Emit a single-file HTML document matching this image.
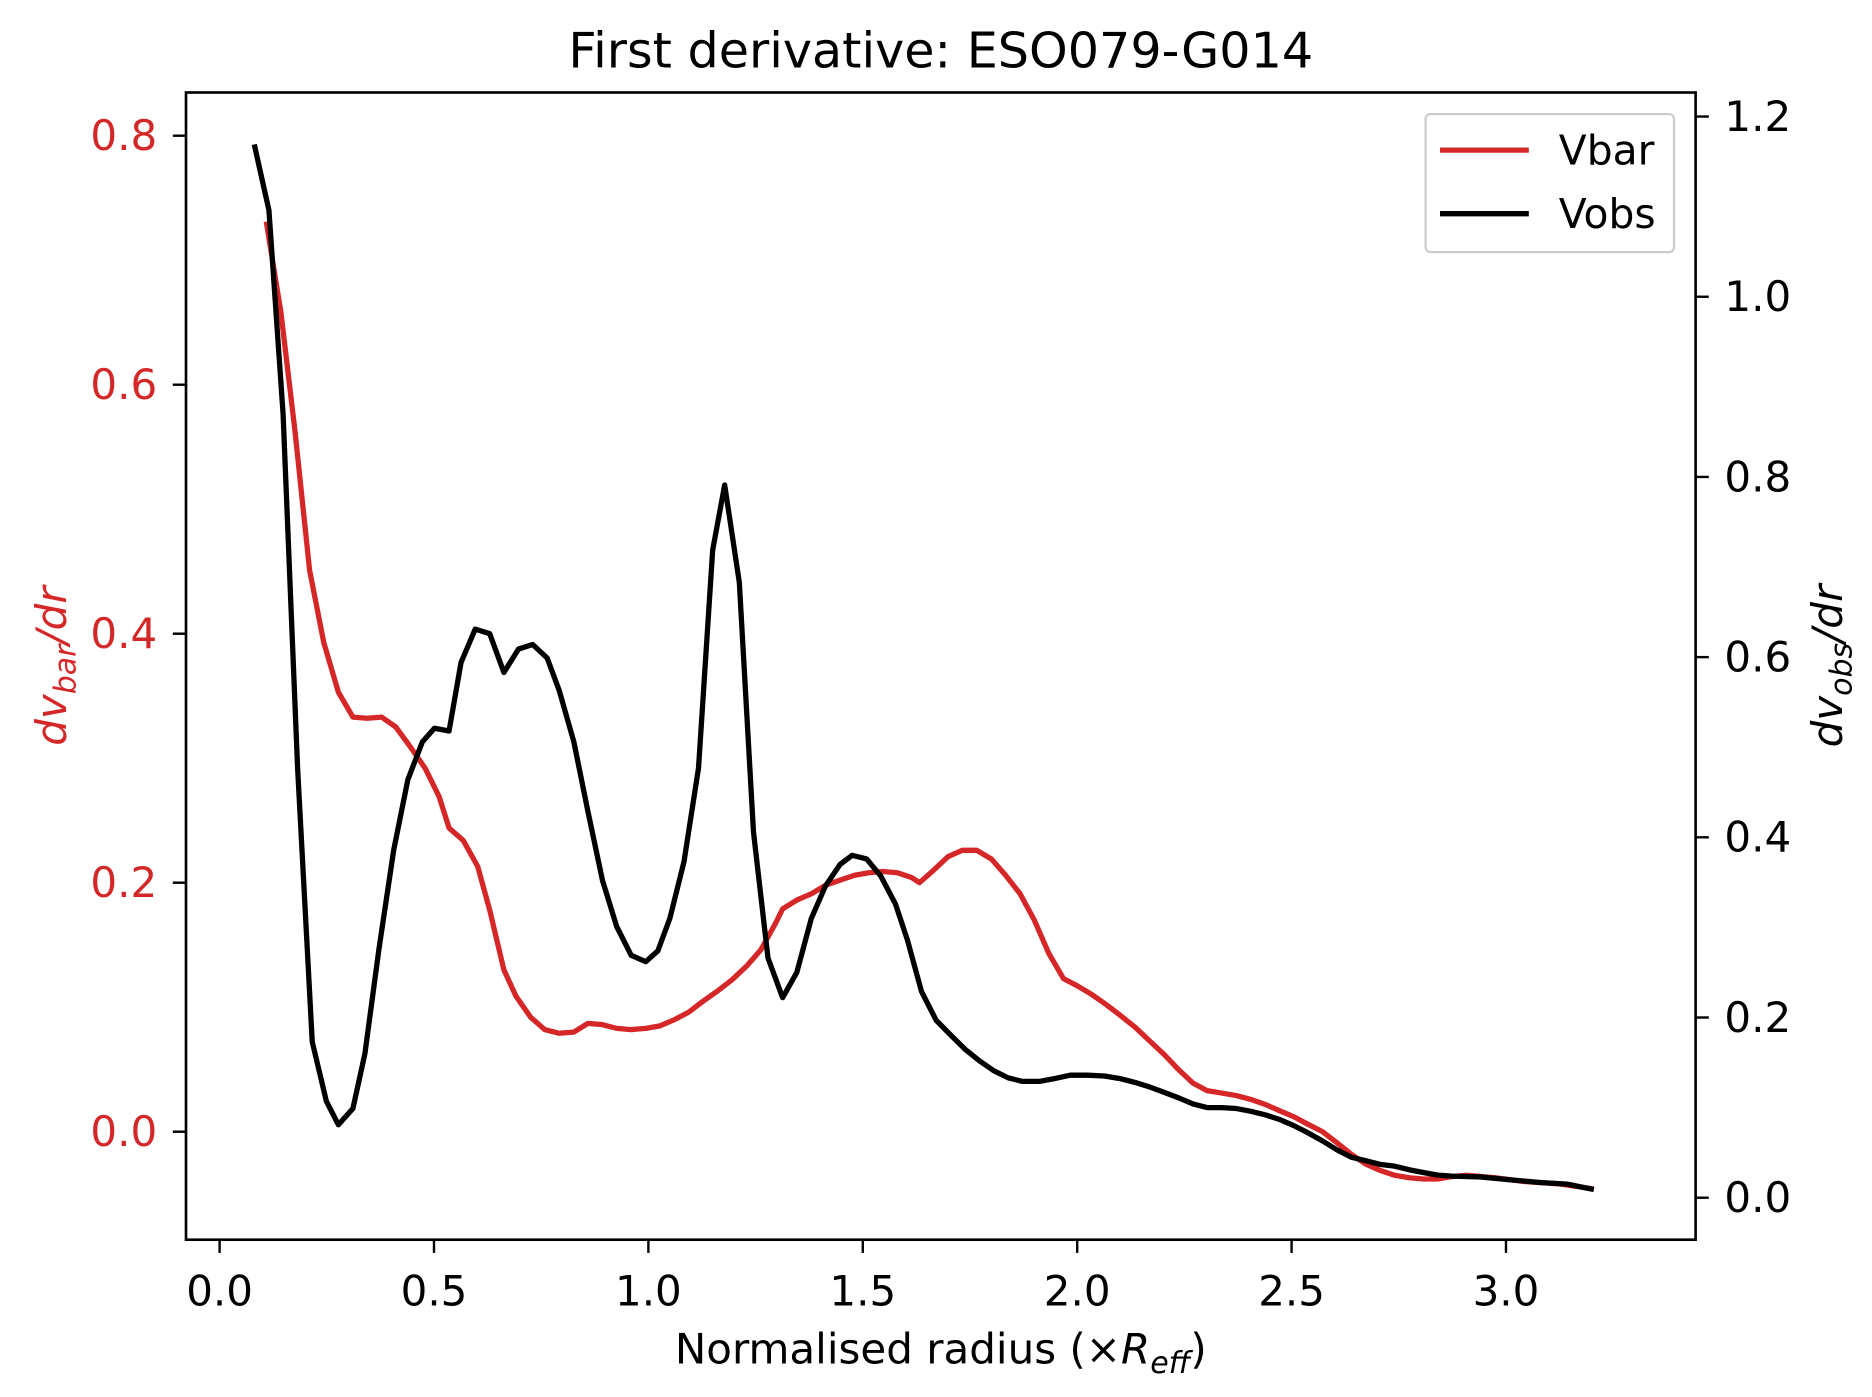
<!DOCTYPE html>
<html><head><meta charset="utf-8"><style>
html,body{margin:0;padding:0;background:#fff}
svg{display:block}
text{font-family:"DejaVu Sans","Liberation Sans",sans-serif}
</style></head><body>
<svg id="chart" width="1872" height="1397" viewBox="0 0 1560 1164" xmlns="http://www.w3.org/2000/svg">
<rect x="0" y="0" width="1560" height="1164" fill="#fff"/>
<text x="784" y="56" font-size="41" text-anchor="middle">First derivative: ESO079-G014</text>
<g id="plot"></g>
<rect x="155" y="77" width="1258" height="956" fill="none" stroke="#000" stroke-width="2.2"/>
<text x="784" y="1136" font-size="35" text-anchor="middle">Normalised radius (×<tspan font-style="italic">R</tspan><tspan font-style="italic" font-size="25" dy="8">eff</tspan><tspan dy="-8">)</tspan></text>
<text transform="translate(55,555) rotate(-90)" font-size="35" text-anchor="middle" fill="#d62728" font-style="italic">dv<tspan font-size="25" dy="8">bar</tspan><tspan dy="-8">/dr</tspan></text>
<text transform="translate(1535,555) rotate(-90)" font-size="35" text-anchor="middle" fill="#000" font-style="italic">dv<tspan font-size="25" dy="8">obs</tspan><tspan dy="-8">/dr</tspan></text>
<g>
<rect x="1188" y="95" width="207" height="115" rx="4" fill="#fff" fill-opacity="0.8" stroke="#ccc" stroke-width="1.8"/>
<line x1="1200" y1="125" x2="1274" y2="125" stroke="#d62728" stroke-width="4.4"/>
<text x="1299" y="137" font-size="34">Vbar</text>
<line x1="1200" y1="178" x2="1274" y2="178" stroke="#000" stroke-width="4.4"/>
<text x="1299" y="190" font-size="34">Vobs</text>
</g>
</svg>
<script>
const xTicks=[0.0,0.5,1.0,1.5,2.0,2.5,3.0];
const xTickLabels=["0.0","0.5","1.0","1.5","2.0","2.5","3.0"];
const leftTicks=[0.0,0.2,0.4,0.6,0.8];
const leftTickLabels=["0.0","0.2","0.4","0.6","0.8"];
const rightTicks=[0.0,0.2,0.4,0.6,0.8,1.0,1.2];
const rightTickLabels=["0.0","0.2","0.4","0.6","0.8","1.0","1.2"];
const vbarX=[0.109,0.143,0.176,0.210,0.243,0.277,0.311,0.344,0.378,0.411,0.445,0.479,0.512,0.535,0.568,0.602,0.630,0.663,0.691,0.725,0.758,0.792,0.826,0.859,0.893,0.926,0.960,0.994,1.027,1.061,1.094,1.128,1.161,1.195,1.229,1.262,1.296,1.313,1.346,1.380,1.413,1.447,1.481,1.514,1.548,1.581,1.615,1.632,1.665,1.699,1.732,1.766,1.800,1.833,1.867,1.900,1.934,1.968,2.001,2.035,2.068,2.102,2.135,2.169,2.203,2.236,2.270,2.303,2.337,2.371,2.404,2.438,2.471,2.505,2.538,2.572,2.606,2.639,2.673,2.706,2.740,2.774,2.807,2.841,2.874,2.908,2.975,3.042,3.126,3.205];
const vbarY=[0.731,0.658,0.562,0.451,0.393,0.353,0.333,0.332,0.333,0.325,0.309,0.292,0.269,0.244,0.234,0.213,0.178,0.130,0.109,0.092,0.082,0.079,0.080,0.087,0.086,0.083,0.082,0.083,0.085,0.090,0.096,0.105,0.113,0.122,0.133,0.146,0.167,0.179,0.186,0.191,0.198,0.202,0.206,0.208,0.209,0.208,0.204,0.200,0.210,0.221,0.226,0.226,0.219,0.206,0.191,0.170,0.143,0.123,0.117,0.110,0.102,0.093,0.084,0.073,0.062,0.050,0.039,0.033,0.031,0.029,0.026,0.022,0.017,0.012,0.006,0.000,-0.009,-0.018,-0.026,-0.031,-0.035,-0.037,-0.038,-0.038,-0.036,-0.035,-0.037,-0.040,-0.042,-0.046];
const vobsX=[0.081,0.115,0.148,0.182,0.216,0.249,0.277,0.311,0.339,0.372,0.406,0.439,0.473,0.501,0.535,0.563,0.596,0.630,0.663,0.697,0.730,0.764,0.792,0.826,0.859,0.893,0.926,0.960,0.994,1.022,1.050,1.083,1.117,1.150,1.178,1.212,1.245,1.279,1.313,1.346,1.380,1.413,1.447,1.475,1.509,1.542,1.576,1.604,1.637,1.671,1.704,1.738,1.772,1.805,1.839,1.872,1.912,1.945,1.984,2.024,2.063,2.102,2.135,2.169,2.203,2.236,2.270,2.303,2.337,2.371,2.404,2.438,2.471,2.505,2.538,2.572,2.606,2.639,2.673,2.706,2.740,2.774,2.807,2.841,2.874,2.941,3.008,3.076,3.143,3.205];
const vobsY=[1.169,1.096,0.870,0.477,0.173,0.107,0.081,0.099,0.160,0.277,0.386,0.464,0.506,0.521,0.518,0.594,0.631,0.626,0.583,0.609,0.614,0.599,0.563,0.506,0.429,0.352,0.301,0.269,0.262,0.274,0.310,0.373,0.477,0.719,0.791,0.683,0.406,0.266,0.222,0.250,0.310,0.346,0.370,0.380,0.376,0.357,0.326,0.286,0.229,0.197,0.181,0.165,0.152,0.141,0.133,0.129,0.129,0.132,0.136,0.136,0.135,0.132,0.128,0.123,0.117,0.111,0.104,0.100,0.100,0.099,0.096,0.092,0.087,0.080,0.072,0.063,0.053,0.045,0.041,0.037,0.035,0.031,0.028,0.025,0.024,0.023,0.020,0.017,0.015,0.009];

const NS="http://www.w3.org/2000/svg";
const xS=v=>183+v*357.33;
const yL=v=>943-v*1037.5;
const yR=v=>998-v*750.8;
const g=document.getElementById('plot');
function mk(tag,attrs){const e=document.createElementNS(NS,tag);for(const k in attrs)e.setAttribute(k,attrs[k]);return e;}

xTicks.forEach((t,i)=>{
  const l=mk('line',{x1:xS(t),x2:xS(t),y1:1033,y2:1044,stroke:'#000','stroke-width':2});
  
  
  g.appendChild(l);
  const tx=mk('text',{x:xS(t),y:1088,'font-size':35,'text-anchor':'middle'});
  
  
  tx.textContent=xTickLabels[i];g.appendChild(tx);
});
leftTicks.forEach((t,i)=>{
  const l=mk('line',{x1:144,x2:155,y1:yL(t),y2:yL(t),stroke:'#000','stroke-width':2});
  
  
  g.appendChild(l);
  const tx=mk('text',{x:131,y:yL(t)+12,'font-size':35,'text-anchor':'end',fill:'#d62728'});
  
  
  tx.textContent=leftTickLabels[i];g.appendChild(tx);
});
rightTicks.forEach((t,i)=>{
  const l=mk('line',{x1:1413,x2:1424,y1:yR(t),y2:yR(t),stroke:'#000','stroke-width':2});
  
  
  g.appendChild(l);
  const tx=mk('text',{x:1437,y:yR(t)+12,'font-size':35,'text-anchor':'start'});
  
  
  tx.textContent=rightTickLabels[i];g.appendChild(tx);
});
const pv=mk('polyline',{points:vbarX.map((x,i)=>xS(x).toFixed(1)+','+yL(vbarY[i]).toFixed(1)).join(' '),fill:'none',stroke:'#d62728','stroke-width':4.4,'stroke-linejoin':'round'});


g.appendChild(pv);
const po=mk('polyline',{points:vobsX.map((x,i)=>xS(x).toFixed(1)+','+yR(vobsY[i]).toFixed(1)).join(' '),fill:'none',stroke:'#000','stroke-width':4.4,'stroke-linejoin':'round'});


g.appendChild(po);
</script>
</body></html>
